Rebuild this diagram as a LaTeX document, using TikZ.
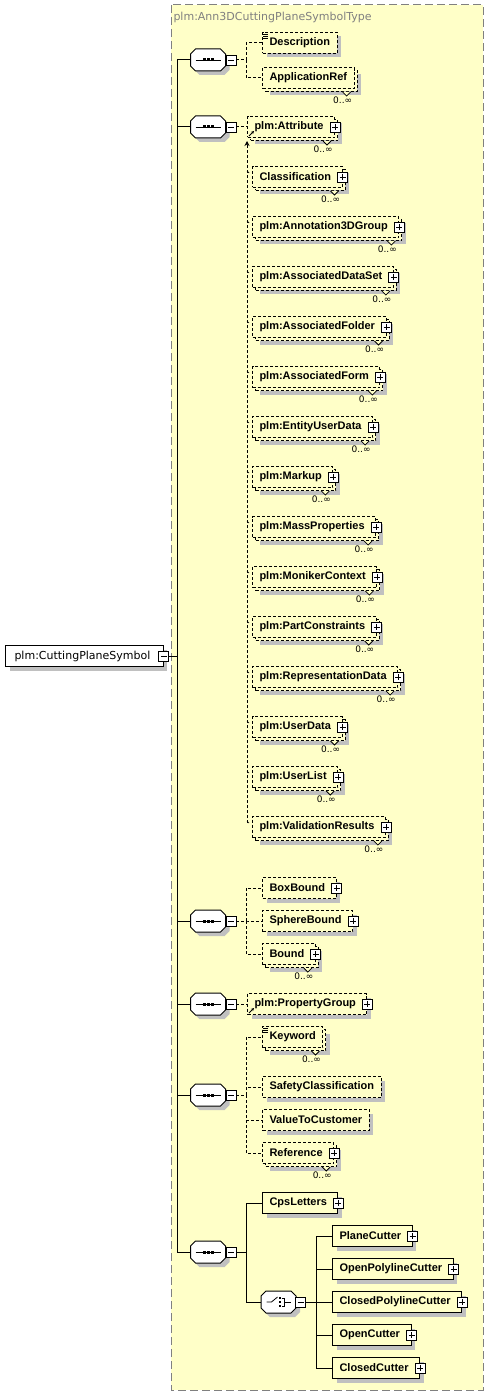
\documentclass[tikz,border=0pt]{standalone}
\usepackage{fontspec}
\setmainfont{DejaVu Sans}
\newfontfamily\elemfont{Liberation Sans}
\definecolor{TypeYellow}{RGB}{255,255,200}
\definecolor{ShadowGrey}{RGB}{192,192,192}
\definecolor{FrameGrey}{RGB}{128,128,128}
\usetikzlibrary{arrows.meta,positioning,shadows}

% occurrence mark under a repeated element
\newcommand{\manyof}[1]{%
  \draw[fill=TypeYellow, line width=0.8pt] ([xshift=-12pt,yshift=-3pt]#1.south east) -- ++(4pt,-4pt) -- ++(4pt,4pt);
  \node[occ] (#1-o) at ([xshift=-2pt,yshift=-7pt]#1.south east) {0..∞};}
% compositor outline round a node
\newcommand{\octagon}[1]{%
  \draw[fill=white, single] ([xshift=5pt]#1.north west) -- ([xshift=-5pt]#1.north east)
    -- ([yshift=-5pt]#1.north east) -- ([yshift=5pt]#1.south east) -- ([xshift=-5pt]#1.south east)
    -- ([xshift=5pt]#1.south west) -- ([yshift=5pt]#1.south west) -- ([yshift=-5pt]#1.north west) -- cycle;}

\begin{document}
\begin{tikzpicture}[
    x=1pt, y=-1pt, line width=1pt, font=\fontsize{11}{13}\selectfont,
    elem/.style={draw, fill=TypeYellow, anchor=west, inner xsep=7pt, inner ysep=0pt,
                 minimum height=21pt, font=\elemfont\bfseries\fontsize{11}{13}\selectfont},
    opt/.style={elem, dash pattern=on 3pt off 2pt},
    single/.style={drop shadow={shadow xshift=4pt, shadow yshift=-4pt, fill=ShadowGrey, opacity=1}},
    multi/.style={drop shadow={shadow xshift=7pt, shadow yshift=-7pt, fill=ShadowGrey, opacity=1},
                  copy shadow={shadow xshift=3pt, shadow yshift=-3pt, draw=black, fill=TypeYellow}},
    kids/.style={execute at end node=\kern4pt},
    tog/.style={draw, fill=white, minimum size=10pt, inner sep=0pt, line width=0.8pt},
    minus/.style={tog, path picture={
        \draw ([xshift=2pt]path picture bounding box.west) -- ([xshift=-2pt]path picture bounding box.east);}},
    plus/.style={tog, path picture={
        \draw ([xshift=2pt]path picture bounding box.west) -- ([xshift=-2pt]path picture bounding box.east)
              ([yshift=-2pt]path picture bounding box.north) -- ([yshift=2pt]path picture bounding box.south);}},
    comp/.style={minimum width=34pt, minimum height=21pt, inner sep=0pt},
    occ/.style={font=\fontsize{9}{10}\selectfont, anchor=north east, inner sep=0pt},
    link/.style={black, line width=1pt},
    optlink/.style={link, dash pattern=on 3pt off 2pt}
  ]
    \useasboundingbox (0,0) rectangle (489,1396);

    % complex type area
    \draw[FrameGrey, dash pattern=on 8pt off 4pt, fill=TypeYellow] (171,5) rectangle (483,1390);
    \node[anchor=west, text=FrameGrey, inner sep=0pt] (typename) at (173,17) {plm:Ann3DCuttingPlaneSymbolType};

    % root element
    \node[elem, fill=white, inner xsep=9pt, single, kids, font=\fontsize{11}{13}\selectfont] (root) at (5,656) {plm:CuttingPlaneSymbol};
    \node[minus] (root-m) at (root.east) {};
    \coordinate (tk) at (177,656);
    \draw[link] (root-m.east) -- (tk);

    % sequences
    \foreach \nm/\yy in {s1/60, s2/127, s3/921, s4/1004, s5/1095, s6/1252} {
      \node[comp] (\nm) at (208,\yy) {};
      \octagon{\nm}
      \node[minus] (\nm-m) at (231,\yy) {};
      \draw[link] (\nm-m.west) -- (\nm.east);
      \draw[link] (\nm.west) -- (\nm.west -| tk);
      \draw[line width=0.8pt] ([xshift=5pt]\nm.west) -- ([xshift=-5pt]\nm.east);
      \foreach \k in {-4,0,4}
        \fill ([xshift=\k pt]\nm.center) +(-1.5,-1.5) rectangle +(1.5,1.5);
    }
    \draw[link] (s1.west -| tk) -- (s6.west -| tk);

    % first sequence
    \node[opt, single] (desc) at (262,43) {Description};
    \node[opt, multi] (appref) at (262,78) {ApplicationRef};
    \foreach \c in {desc, appref}
      \draw[optlink] (s1-m.east) -- ++(10,0) |- (\c);
    \manyof{appref}

    % attribute and its substitution group
    \node[opt, multi, kids] (attr) at (247,127) {plm:Attribute};
    \node[plus] (attr-p) at (attr.east) {};
    \draw[optlink] (s2-m.east) -- (attr);
    \draw[-{Stealth[length=3pt,width=3pt]}, line width=0.8pt] ([xshift=2pt,yshift=2pt]attr.south west) -- ++(5pt,5pt);
    \manyof{attr}

    \foreach \nm/\txt [count=\i from 0] in {cls/Classification, a3g/plm:Annotation3DGroup,
        ads/plm:AssociatedDataSet, afo/plm:AssociatedFolder, afm/plm:AssociatedForm,
        eud/plm:EntityUserData, mku/plm:Markup, mpr/plm:MassProperties,
        mcx/plm:MonikerContext, pcs/plm:PartConstraints, rep/plm:RepresentationData,
        udt/plm:UserData, uls/plm:UserList, vrs/plm:ValidationResults} {
      \node[opt, multi, kids] (\nm) at (252,177+50*\i) {\txt};
      \node[plus] (\nm-p) at (\nm.east) {};
      \draw[line width=0.7pt] ([xshift=-5pt,yshift=-5pt]\nm.north west) -- ([xshift=-3pt,yshift=-7pt]\nm.north west);
      \manyof{\nm}
    }
    \coordinate (sg) at ([xshift=-5pt,yshift=-7pt]vrs.north west);
    \draw[optlink, -{Stealth[length=5pt,width=5pt]}] (sg) -- ([yshift=-3pt]sg |- attr.south);

    % bounds
    \node[opt, single, kids] (boxb) at (262,888) {BoxBound};
    \node[opt, single, kids] (sphb) at (262,921) {SphereBound};
    \node[opt, multi, kids] (bound) at (262,954) {Bound};
    \foreach \c in {boxb, sphb, bound} {
      \node[plus] (\c-p) at (\c.east) {};
      \draw[optlink] (s3-m.east) -- ++(10,0) |- (\c);
    }
    \manyof{bound}

    % property group
    \node[opt, single, kids] (pgroup) at (247,1004) {plm:PropertyGroup};
    \node[plus] (pgroup-p) at (pgroup.east) {};
    \draw[optlink] (s4-m.east) -- (pgroup);
    \draw[-{Stealth[length=3pt,width=3pt]}, line width=0.8pt] ([xshift=2pt,yshift=2pt]pgroup.south west) -- ++(5pt,5pt);

    % keyword block
    \node[opt, multi] (keyword) at (262,1037) {Keyword};
    \node[opt, single] (safety) at (262,1087) {SafetyClassification};
    \node[opt, single] (vtc) at (262,1120) {ValueToCustomer};
    \node[opt, multi, kids] (refer) at (262,1153) {Reference};
    \node[plus] (refer-p) at (refer.east) {};
    \foreach \c in {keyword, safety, vtc, refer}
      \draw[optlink] (s5-m.east) -- ++(10,0) |- (\c);
    \manyof{keyword}
    \manyof{refer}

    % text content marks
    \foreach \c in {desc, keyword}
      \foreach \k in {2,4,6}
        \draw[line width=0.6pt] ([xshift=1pt,yshift=-\k pt]\c.north west) -- ++(5pt,0);

    % letters and cutters
    \node[elem, single, kids] (cps) at (262,1203) {CpsLetters};
    \node[plus] (cps-p) at (cps.east) {};
    \node[comp] (choice) at (278.5,1302) {};
    \octagon{choice}
    \node[minus] (choice-m) at (300.5,1302) {};
    \draw[link] (choice-m.west) -- (choice.east);
    \foreach \c in {cps, choice}
      \draw[link] (s6-m.east) -- ++(10,0) |- (\c);
    \draw[line width=0.8pt] ([xshift=-12pt]choice.center) -- ++(5,0) -- ++(6,-5);
    \foreach \k in {-4,0,4}
      \fill ([shift={(1.5,\k)}]choice.center) +(-1.4,-1.4) rectangle +(1.4,1.4);
    \draw[line width=0.8pt] ([shift={(3,-4)}]choice.center) -- ++(3,0) -- ++(0,8) -- ++(-3,0)
      ([shift={(6,0)}]choice.center) -- ++(6,0);

    \foreach \nm/\txt [count=\i from 0] in {pcut/PlaneCutter, opcut/OpenPolylineCutter,
        cpcut/ClosedPolylineCutter, ocut/OpenCutter, ccut/ClosedCutter} {
      \node[elem, single, kids] (\nm) at (332,1236+33*\i) {\txt};
      \node[plus] (\nm-p) at (\nm.east) {};
      \draw[link] (choice-m.east) -- ++(11,0) |- (\nm);
    }
  \end{tikzpicture}
\end{document}
